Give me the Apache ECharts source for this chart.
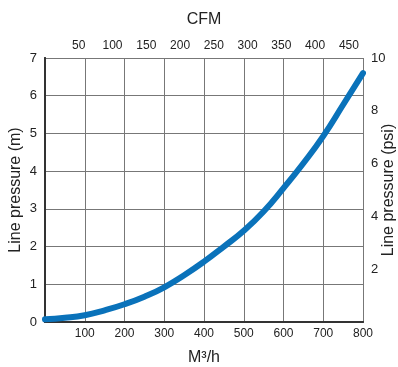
<!DOCTYPE html>
<html>
<head>
<meta charset="utf-8">
<script src="https://cdn.jsdelivr.net/npm/echarts@6/dist/echarts.min.js"></script>
<style>
  html, body { margin: 0; padding: 0; background: #fff; }
  #chart { width: 398px; height: 367px; }
</style>
</head>
<body>
<div id="chart"></div>
<script>
// values
const flowM3h = [0, 50, 100, 150, 200, 250, 300, 350, 400, 450, 500, 550, 600, 650, 700, 750, 800];
const pressureM = [0.07, 0.11, 0.18, 0.31, 0.47, 0.67, 0.92, 1.24, 1.6, 2.0, 2.42, 2.93, 3.55, 4.21, 4.93, 5.76, 6.6];

// unit conversions for the secondary axes
const CFM_PER_M3H = 0.5886;
const flowMax = 800;
const pressMax = 7;
const psiMax = 10;

const chart = echarts.init(document.getElementById('chart'));

const lineData = flowM3h.map((f, i) => [f, pressureM[i]]);

const axisLine = { show: true, lineStyle: { color: '#333', width: 2 } };
const labelStyle = { color: '#222', fontSize: 12, fontFamily: 'Liberation Sans' };
const nameStyle = { color: '#222', fontSize: 16, fontFamily: 'Liberation Sans' };

const option = {
    animation: false,
    grid: { left: 45, right: 35, top: 58, bottom: 45, containLabel: false, outerBoundsMode: 'none' },
    xAxis: [
        {
            type: 'value',
            position: 'bottom',
            min: 0,
            max: flowMax,
            interval: 100,
            name: 'M³/h',
            nameLocation: 'middle',
            nameGap: 28,
            nameMoveOverlap: false,
            nameTextStyle: nameStyle,
            axisLine: axisLine,
            axisTick: { show: false },
            axisLabel: Object.assign({ margin: 6, showMinLabel: false }, labelStyle),
            splitLine: { show: true, lineStyle: { color: '#777', width: 1 } }
        },
        {
            type: 'value',
            position: 'top',
            min: 0,
            max: flowMax * CFM_PER_M3H,
            interval: 50,
            name: 'CFM',
            nameLocation: 'middle',
            nameGap: 30,
            nameMoveOverlap: false,
            nameTextStyle: nameStyle,
            axisLine: axisLine,
            axisTick: { show: false },
            axisLabel: Object.assign({ margin: 6, showMinLabel: false, showMaxLabel: false }, labelStyle),
            splitLine: { show: false }
        }
    ],
    yAxis: [
        {
            type: 'value',
            position: 'left',
            min: 0,
            max: pressMax,
            interval: 1,
            name: 'Line pressure (m)',
            nameLocation: 'middle',
            nameGap: 21,
            nameMoveOverlap: false,
            nameTextStyle: nameStyle,
            axisLine: axisLine,
            axisTick: { show: false },
            axisLabel: Object.assign({ margin: 8 }, labelStyle, { fontSize: 13 }),
            splitLine: { show: true, lineStyle: { color: '#777', width: 1 } }
        },
        {
            type: 'value',
            position: 'right',
            min: 0,
            max: psiMax,
            interval: 2,
            name: 'Line pressure (psi)',
            nameLocation: 'middle',
            nameGap: 18,
            nameRotate: 90,
            nameMoveOverlap: false,
            nameTextStyle: nameStyle,
            axisLine: axisLine,
            axisTick: { show: false },
            axisLabel: Object.assign({ margin: 8, showMinLabel: false }, labelStyle, { fontSize: 13 }),
            splitLine: { show: false }
        }
    ],
    series: [
        {
            type: 'line',
            xAxisIndex: 0,
            yAxisIndex: 0,
            smooth: 0.5,
            showSymbol: false,
            data: lineData,
            lineStyle: { color: '#0a72ba', width: 6, cap: 'round' },
            itemStyle: { color: '#0a72ba' }
        }
    ]
};

chart.setOption(option);
</script>
</body>
</html>
